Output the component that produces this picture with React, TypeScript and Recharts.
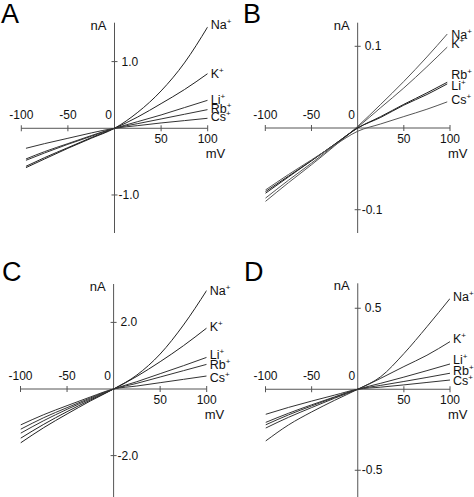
import React from 'react';
import { LineChart, Line, XAxis, YAxis, ReferenceLine, ReferenceDot } from 'recharts';

// ---------- data ----------
const voltageA = [-95, -75, -50, -25, 0, 25, 50, 75, 100];
const voltageB = [-100, -75, -50, -25, 0, 25, 50, 75, 97];
const voltageC = [-100, -75, -50, -25, 0, 25, 50, 75, 100];
const voltageD = [-100, -75, -50, -25, 0, 25, 50, 75, 100];

// Panel A (nA)
const naA = [-0.59, -0.46, -0.30, -0.15, 0, 0.24, 0.56, 0.98, 1.52];
const kA = [-0.57, -0.44, -0.29, -0.14, 0, 0.17, 0.37, 0.58, 0.82];
const liA = [-0.48, -0.37, -0.24, -0.12, 0, 0.10, 0.20, 0.31, 0.42];
const rbA = [-0.46, -0.35, -0.23, -0.11, 0, 0.07, 0.14, 0.21, 0.28];
const csA = [-0.30, -0.23, -0.15, -0.07, 0, 0.04, 0.08, 0.115, 0.15];

// Panel B (nA)
const naB = [-0.090, -0.067, -0.045, -0.022, 0.002, 0.029, 0.057, 0.087, 0.115];
const kB = [-0.086, -0.064, -0.043, -0.021, 0.001, 0.025, 0.049, 0.075, 0.099];
const rbB = [-0.080, -0.060, -0.040, -0.020, 0, 0.014, 0.029, 0.043, 0.056];
const liB = [-0.078, -0.059, -0.040, -0.020, 0, 0.013, 0.028, 0.041, 0.054];
const csB = [-0.076, -0.057, -0.039, -0.021, -0.004, 0.005, 0.014, 0.023, 0.032];

// Panel C (nA)
const naC = [-1.62, -1.16, -0.75, -0.36, 0, 0.42, 1.05, 1.92, 2.96];
const kC = [-1.48, -1.06, -0.68, -0.33, 0, 0.38, 0.82, 1.30, 1.83];
const liC = [-1.33, -0.95, -0.61, -0.30, 0, 0.22, 0.46, 0.70, 0.95];
const rbC = [-1.21, -0.86, -0.56, -0.27, 0, 0.17, 0.36, 0.55, 0.74];
const csC = [-1.08, -0.77, -0.50, -0.24, 0, 0.09, 0.19, 0.29, 0.39];

// Panel D (nA)
const naD = [-0.32, -0.22, -0.14, -0.068, 0, 0.078, 0.22, 0.386, 0.56];
const kD = [-0.24, -0.173, -0.113, -0.055, 0, 0.068, 0.14, 0.21, 0.294];
const liD = [-0.22, -0.158, -0.103, -0.05, 0, 0.037, 0.075, 0.115, 0.156];
const rbD = [-0.205, -0.148, -0.096, -0.047, 0, 0.024, 0.048, 0.073, 0.099];
const csD = [-0.155, -0.112, -0.073, -0.036, 0, 0.013, 0.027, 0.042, 0.057];

const xTicks = [-100, -50, 50, 100];
const xTickLabels = ['-100', '-50', '50', '100'];
const yTicksA = [1.0, -1.0];
const yTickLabelsA = ['1.0', '-1.0'];
const yTicksB = [0.1, -0.1];
const yTickLabelsB = ['0.1', '-0.1'];
const yTicksC = [2.0, -2.0];
const yTickLabelsC = ['2.0', '-2.0'];
const yTicksD = [0.5, -0.5];
const yTickLabelsD = ['0.5', '-0.5'];

// ---------- helpers ----------
const FONT = '"Liberation Sans", Arial, Helvetica, sans-serif';

type Series = { key: string; values: number[]; color: string; dx: number; dy: number };
type PanelCfg = {
  letter: string;
  left: number;
  top: number;
  width: number;
  height: number;
  margin: { top: number; right: number; bottom: number; left: number };
  yDomain: [number, number];
  yTicks: number[];
  yTickLabels: string[];
  volts: number[];
  series: Series[];
  letterPos: { x: number; y: number };
};

function buildRows(volts: number[], series: Series[]) {
  return volts.map((v, i) => {
    const row: Record<string, number> = { v };
    series.forEach((s) => {
      row[s.key] = s.values[i];
    });
    return row;
  });
}

const AXIS = '#555';

function Panel({ cfg }: { cfg: PanelCfg }) {
  const rows = buildRows(cfg.volts, cfg.series);
  const lastIdx = cfg.volts.length - 1;
  const lastV = cfg.volts[lastIdx];
  return (
    <div style={{ position: 'absolute', left: cfg.left, top: cfg.top, width: cfg.width, height: cfg.height }}>
      <LineChart width={cfg.width} height={cfg.height} data={rows} margin={cfg.margin}>
        <XAxis type="number" dataKey="v" domain={[-100, 100]} allowDataOverflow hide />
        <YAxis type="number" domain={cfg.yDomain} allowDataOverflow hide />
        <ReferenceLine y={0} stroke={AXIS} strokeWidth={1} ifOverflow="extendDomain" />
        <ReferenceLine x={0} stroke={AXIS} strokeWidth={1} ifOverflow="extendDomain" />
        {xTicks.map((t, i) => (
          <ReferenceDot
            key={'xt' + t}
            x={t}
            y={0}
            r={1}
            shape={(p: any) => {
              const neg = t < 0;
              return (
                <g>
                  <line x1={p.cx} x2={p.cx} y1={p.cy - 3} y2={p.cy + 3} stroke={AXIS} strokeWidth={1} />
                  <text
                    x={p.cx}
                    y={neg ? p.cy - 9 : p.cy + 15}
                    textAnchor="middle"
                    fontSize={12}
                    fontFamily={FONT}
                    fill="#111"
                  >
                    {xTickLabels[i]}
                  </text>
                  {t === 100 ? (
                    <text x={p.cx - 2} y={p.cy + 30} fontSize={13} fontFamily={FONT} fill="#111">
                      mV
                    </text>
                  ) : null}
                </g>
              );
            }}
          />
        ))}
        <ReferenceDot
          x={0}
          y={0}
          r={1}
          shape={(p: any) => (
            <text x={p.cx - 6} y={p.cy - 9} textAnchor="middle" fontSize={12} fontFamily={FONT} fill="#111">
              0
            </text>
          )}
        />
        <ReferenceDot
          x={0}
          y={cfg.yDomain[1]}
          r={1}
          shape={(p: any) => (
            <text x={p.cx - 8} y={p.cy + 7} textAnchor="end" fontSize={13} fontFamily={FONT} fill="#111">
              nA
            </text>
          )}
        />
        {cfg.yTicks.map((t, i) => (
          <ReferenceDot
            key={'yt' + t}
            x={0}
            y={t}
            r={1}
            shape={(p: any) => (
              <g>
                <line x1={p.cx - 3} x2={p.cx + 3} y1={p.cy} y2={p.cy} stroke={AXIS} strokeWidth={1} />
                <text
                  x={p.cx + (t < 0 ? 4 : 7)}
                  y={p.cy + 4}
                  textAnchor="start"
                  fontSize={12}
                  fontFamily={FONT}
                  fill="#111"
                >
                  {cfg.yTickLabels[i]}
                </text>
              </g>
            )}
          />
        ))}
        {cfg.series.map((s) => (
          <Line
            key={s.key}
            dataKey={s.key}
            type="monotone"
            dot={false}
            activeDot={false}
            stroke={s.color}
            strokeWidth={1}
            isAnimationActive={false}
          />
        ))}
        {cfg.series.map((s) => (
          <ReferenceDot
            key={'lab' + s.key}
            x={lastV}
            y={s.values[lastIdx]}
            r={1}
            shape={(p: any) => (
              <text x={p.cx + s.dx} y={p.cy + s.dy + 4.5} fontSize={12.5} fontFamily={FONT} fill="#111">
                {s.key}
                <tspan dy={-5} fontSize={8}>
                  +
                </tspan>
              </text>
            )}
          />
        ))}
      </LineChart>
      <div
        style={{
          position: 'absolute',
          left: cfg.letterPos.x,
          top: cfg.letterPos.y,
          fontFamily: FONT,
          fontSize: 27,
          lineHeight: 1,
          color: '#000',
        }}
      >
        {cfg.letter}
      </div>
    </div>
  );
}

const panels: PanelCfg[] = [
  {
    letter: 'A',
    left: 0,
    top: 0,
    width: 237,
    height: 248,
    margin: { top: 22.7, right: 29.3, bottom: 15, left: 21.3 },
    yDomain: [-1.57, 1.583],
    yTicks: yTicksA,
    yTickLabels: yTickLabelsA,
    volts: voltageA,
    letterPos: { x: 1, y: 1 },
    series: [
      { key: 'Na', values: naA, color: '#222', dx: 3, dy: -2 },
      { key: 'K', values: kA, color: '#222', dx: 3, dy: 0 },
      { key: 'Li', values: liA, color: '#333', dx: 3, dy: -1 },
      { key: 'Rb', values: rbA, color: '#333', dx: 3, dy: -1 },
      { key: 'Cs', values: csA, color: '#333', dx: 3, dy: -2 },
    ],
  },
  {
    letter: 'B',
    left: 237,
    top: 0,
    width: 237,
    height: 248,
    margin: { top: 22.7, right: 24, bottom: 15, left: 28.3 },
    yDomain: [-0.1285, 0.1289],
    yTicks: yTicksB,
    yTickLabels: yTickLabelsB,
    volts: voltageB,
    letterPos: { x: 6, y: 1 },
    series: [
      { key: 'Na', values: naB, color: '#555', dx: 4, dy: 0 },
      { key: 'K', values: kB, color: '#555', dx: 4, dy: -4 },
      { key: 'Rb', values: rbB, color: '#222', dx: 4, dy: -8 },
      { key: 'Li', values: liB, color: '#222', dx: 4, dy: 2 },
      { key: 'Cs', values: csB, color: '#555', dx: 4, dy: -2 },
    ],
  },
  {
    letter: 'C',
    left: 0,
    top: 248,
    width: 237,
    height: 249,
    margin: { top: 36, right: 30.3, bottom: 0, left: 20.5 },
    yDomain: [-3.243, 3.153],
    yTicks: yTicksC,
    yTickLabels: yTickLabelsC,
    volts: voltageC,
    letterPos: { x: 2, y: 11 },
    series: [
      { key: 'Na', values: naC, color: '#222', dx: 3, dy: 0 },
      { key: 'K', values: kC, color: '#222', dx: 3, dy: -1.5 },
      { key: 'Li', values: liC, color: '#333', dx: 3, dy: -2.5 },
      { key: 'Rb', values: rbC, color: '#333', dx: 3, dy: 0.5 },
      { key: 'Cs', values: csC, color: '#333', dx: 3, dy: 1 },
    ],
  },
  {
    letter: 'D',
    left: 237,
    top: 248,
    width: 237,
    height: 249,
    margin: { top: 35.3, right: 24, bottom: 0, left: 28.5 },
    yDomain: [-0.665, 0.654],
    yTicks: yTicksD,
    yTickLabels: yTickLabelsD,
    volts: voltageD,
    letterPos: { x: 7, y: 11 },
    series: [
      { key: 'Na', values: naD, color: '#333', dx: 3, dy: -2 },
      { key: 'K', values: kD, color: '#333', dx: 3, dy: -3 },
      { key: 'Li', values: liD, color: '#333', dx: 3, dy: -4 },
      { key: 'Rb', values: rbD, color: '#333', dx: 3, dy: -3 },
      { key: 'Cs', values: csD, color: '#333', dx: 3, dy: 0 },
    ],
  },
];

export default function App() {
  return (
    <div style={{ position: 'absolute', left: 0, top: 0, width: 474, height: 497, background: '#fff', overflow: 'hidden' }}>
      {panels.map((p) => (
        <Panel key={p.letter} cfg={p} />
      ))}
    </div>
  );
}
